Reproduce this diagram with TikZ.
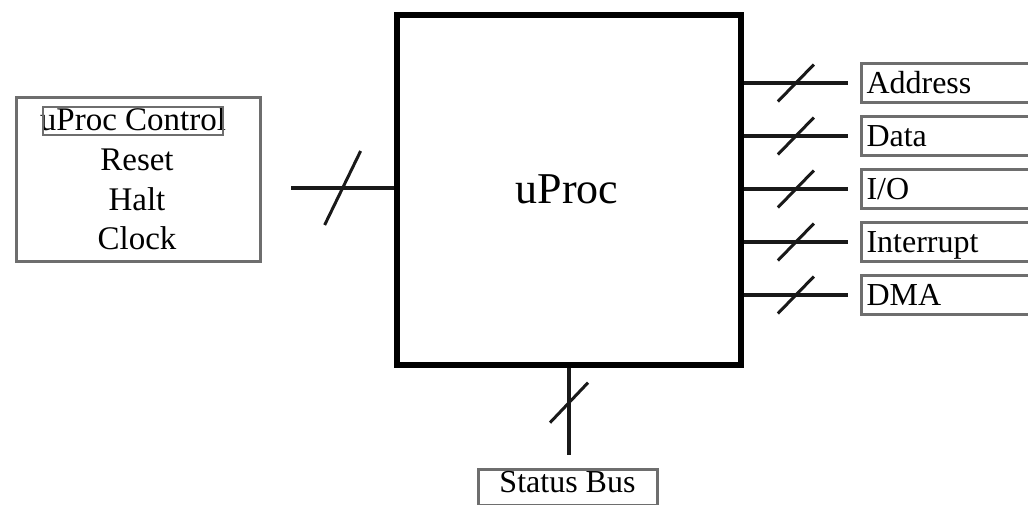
\documentclass[tikz,border=0pt]{standalone}
\usepackage{fontspec}
\setmainfont{Liberation Serif}
\usetikzlibrary{calc}
\definecolor{frame}{HTML}{6E6E6E}
\tikzset{
  bus/.style={line width=4pt, draw=black!90},
  slashline/.style={line width=3pt, draw=black!90},
  labelbox/.style={draw=frame, line width=3pt, anchor=west, font=\fontsize{32}{38}\selectfont,
    text height=24pt, text depth=4pt, minimum height=39pt, text width=175pt, inner xsep=5pt, align=left},
  ctltext/.style={anchor=base, font=\fontsize{33}{40}\selectfont, inner sep=0pt},
}
\begin{document}
\begin{tikzpicture}[x=1pt,y=-1pt]
\useasboundingbox (0,0) rectangle (1028,504);
\clip (0,0) rectangle (1028,504);
% main processor
\node[draw=black, line width=5.5pt, minimum width=344pt, minimum height=350pt, inner sep=0pt] (proc) at (569,190) {};
\node[anchor=base, font=\fontsize{44}{50}\selectfont, inner sep=0pt] (proctext) at (567,203) {uProc};
% control box
\node[draw=frame, line width=3pt, minimum width=244pt, minimum height=164pt, inner sep=0pt] (ctl) at (138,179) {};
\node[ctltext] (ctltitle) at (133,130) {uProc Control};
\node[draw=frame, line width=2.5pt, minimum width=180pt, minimum height=28pt, inner sep=0pt] (ctltitlebox) at (133,121) {};
\node[ctltext] (reset) at (137,170) {Reset};
\node[ctltext] (halt) at (137,210) {Halt};
\node[ctltext] (clock) at (137,249) {Clock};
% left bus
\coordinate (lw) at (291,188);
\draw[bus] (lw) -- (lw -| proc.west) coordinate[pos=0.5] (lm);
\draw[slashline] ($(lm)+(-18,37)$) -- ($(lm)+(18,-37)$);
% right labels
\node[labelbox] (addr) at (860,83) {Address};
\node[labelbox] (data) at (860,136) {Data};
\node[labelbox] (io) at (860,189) {I/O};
\node[labelbox] (intr) at (860,242) {Interrupt};
\node[labelbox] (dma) at (860,295) {DMA};
\foreach \n in {addr,data,io,intr,dma}{
  \coordinate (\n end) at ($(\n.west)+(-12,0)$);
  \draw[bus] (proc.east |- \n end) -- (\n end) coordinate[pos=0.5] (\n mid);
  \draw[slashline] ($(\n mid)+(-18,18.5)$) -- ($(\n mid)+(18,-18.5)$);
}
% bottom status bus
\node[draw=frame, line width=3pt, anchor=north, minimum width=179pt, minimum height=36pt, inner sep=0pt] (status) at (567.5,468) {};
\node[anchor=base, font=\fontsize{32}{38}\selectfont, inner sep=0pt] (statustext) at (567.5,492) {Status Bus};
\coordinate (send) at (569,455);
\draw[bus] (proc.south) -- (send) coordinate[pos=0.4] (sm);
\draw[slashline] ($(sm)+(-19,20)$) -- ($(sm)+(19,-20)$);
\end{tikzpicture}
\end{document}
